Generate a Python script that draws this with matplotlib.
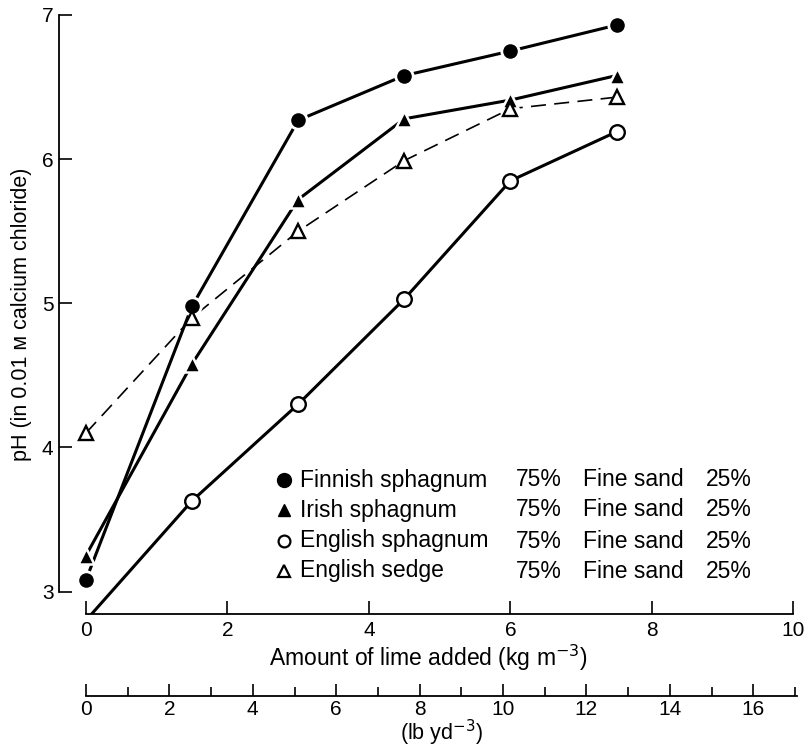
import matplotlib
matplotlib.use("Agg")
import matplotlib.pyplot as plt
from matplotlib.ticker import MultipleLocator

plt.rcParams['font.family'] = ['Liberation Sans', 'DejaVu Sans']

# ---- data ----
lime_kg = [0, 1.5, 3, 4.5, 6, 7.5]
finnish_sphagnum = [3.08, 4.98, 6.27, 6.58, 6.75, 6.93]
irish_sphagnum = [3.25, 4.58, 5.72, 6.28, 6.41, 6.58]
english_sphagnum = [2.80, 3.63, 4.30, 5.03, 5.85, 6.19]
english_sedge = [4.10, 4.90, 5.50, 5.99, 6.35, 6.43]

series_names = ["Finnish sphagnum", "Irish sphagnum", "English sphagnum", "English sedge"]
peat_pct = ["75%", "75%", "75%", "75%"]
sand_name = ["Fine sand", "Fine sand", "Fine sand", "Fine sand"]
sand_pct = ["25%", "25%", "25%", "25%"]

kg_ticks = [0, 2, 4, 6, 8, 10]
ph_ticks = [3, 4, 5, 6, 7]
lb_major = [0, 2, 4, 6, 8, 10, 12, 14, 16]

W, H = 805, 748
fig = plt.figure(figsize=(W / 100, H / 100), dpi=100)

ax = fig.add_axes([59 / W, 1 - 614 / H, 738 / W, (614 - 15) / H])
ax.set_xlim(-0.38, 10.05)
ax.set_ylim(2.845, 7.0)

FS = 15
FL = 16.5

# lines
ax.plot(lime_kg, english_sedge, color='black', lw=1.2, dashes=(9, 5), zorder=2)
ax.plot(lime_kg, english_sphagnum, color='black', lw=2.2, zorder=2)
ax.plot(lime_kg, irish_sphagnum, color='black', lw=2.2, zorder=2)
ax.plot(lime_kg, finnish_sphagnum, color='black', lw=2.2, zorder=2)

# markers with white halo
ax.plot(lime_kg, finnish_sphagnum, 'o', ms=12.5, mfc='black', mec='white', mew=2.0, zorder=4)
ax.plot(lime_kg, irish_sphagnum, '^', ms=12, mfc='black', mec='white', mew=1.8, zorder=4)
ax.plot(lime_kg[1:], english_sphagnum[1:], 'o', ms=10.5, mfc='white', mec='black', mew=1.7, zorder=4)
ax.plot(lime_kg, english_sedge, '^', ms=9.5, mfc='white', mec='black', mew=1.7, zorder=4)

# spines
for s in ['top', 'right']:
    ax.spines[s].set_visible(False)
ax.spines['left'].set_bounds(3, 7)
ax.spines['bottom'].set_bounds(0, 10)
ax.spines['left'].set_linewidth(1.3)
ax.spines['bottom'].set_linewidth(1.3)
ax.set_xticks(kg_ticks)
ax.set_yticks(ph_ticks)
ax.tick_params(axis='both', direction='in', length=9.5, width=1.2, labelsize=FS)
ax.tick_params(axis='x', pad=5)
ax.tick_params(axis='y', pad=4)
ax.set_xlabel("Amount of lime added (kg m$^{-3}$)", fontsize=FL, labelpad=2)
ax.set_ylabel("pH (in 0.01 м calcium chloride)", fontsize=15.5, labelpad=7)

# legend as table
def px(x, y):
    return (x / W, 1 - y / H)

rows_y = [480, 510, 541, 571]
markers = [dict(marker='o', ms=10, mfc='black', mec='black'),
           dict(marker='^', ms=9, mfc='black', mec='black'),
           dict(marker='o', ms=8.5, mfc='white', mec='black', mew=1.6),
           dict(marker='^', ms=8, mfc='white', mec='black', mew=1.6)]
for i, yy in enumerate(rows_y):
    mx, my = px(284, yy)
    fig.add_artist(plt.Line2D([mx], [my], linestyle='none', transform=fig.transFigure, **markers[i]))
    fig.text(*px(300, yy), series_names[i], fontsize=FL, va='center', ha='left')
    fig.text(*px(516, yy), peat_pct[i], fontsize=FL, va='center', ha='left')
    fig.text(*px(583, yy), sand_name[i], fontsize=FL, va='center', ha='left')
    fig.text(*px(706, yy), sand_pct[i], fontsize=FL, va='center', ha='left')

# secondary lb scale
ax2 = fig.add_axes([86 / W, 1 - 696 / H, 711 / W, 0.0001])
ax2.set_xlim(0, 17.05)
ax2.set_ylim(0, 1)
for s in ['top', 'right', 'left']:
    ax2.spines[s].set_visible(False)
ax2.spines['bottom'].set_linewidth(1.3)
ax2.set_yticks([])
ax2.set_xticks(lb_major)
ax2.xaxis.set_minor_locator(MultipleLocator(1))
ax2.tick_params(axis='x', which='major', direction='in', length=9, width=1.2, labelsize=FS, pad=3)
ax2.tick_params(axis='x', which='minor', direction='in', length=6.5, width=1.2)
ax2.set_xlabel("(lb yd$^{-3}$)", fontsize=15.5, labelpad=-1)

fig.savefig("out.png", dpi=100)
